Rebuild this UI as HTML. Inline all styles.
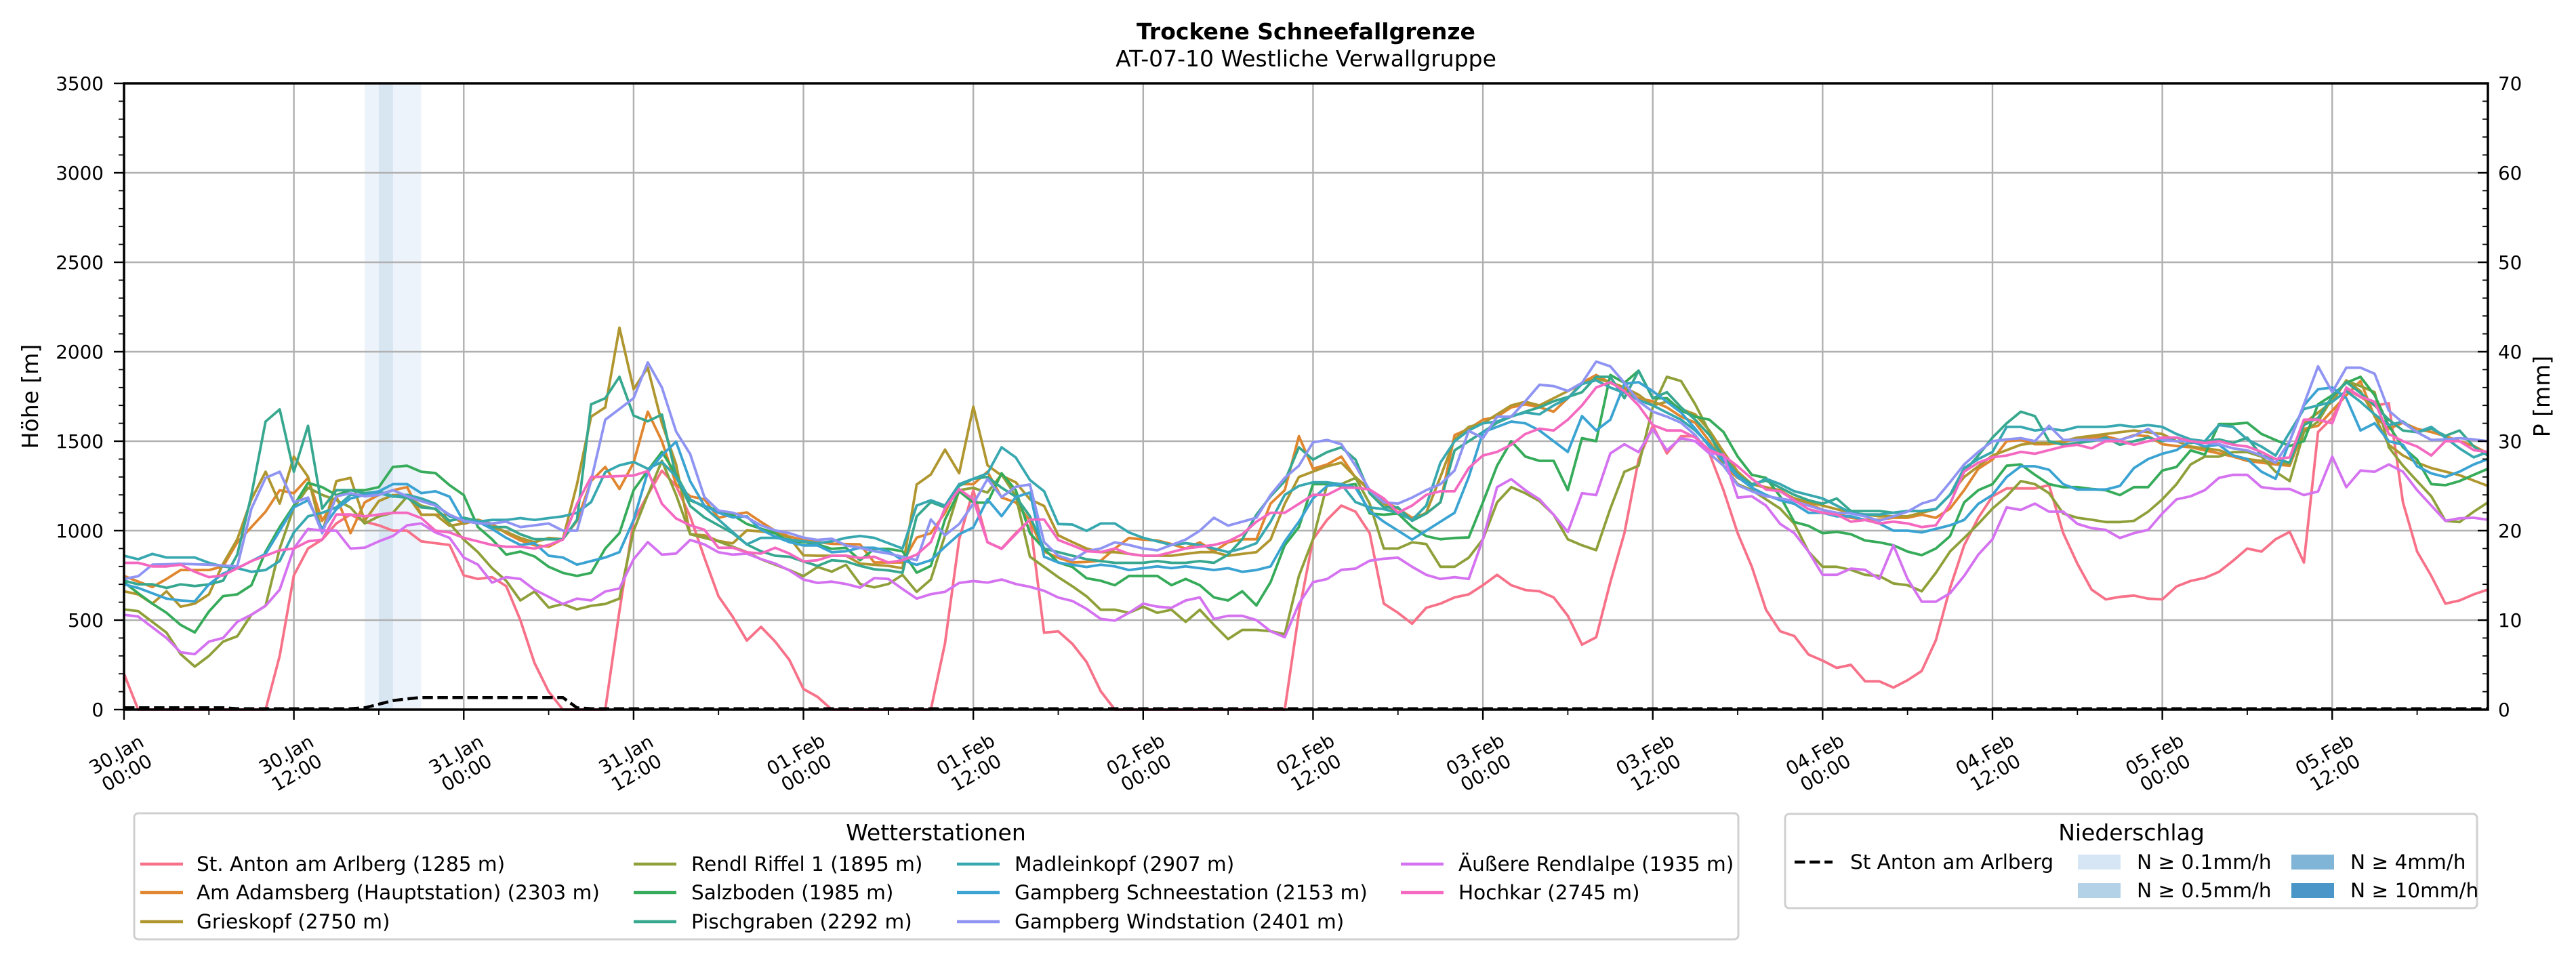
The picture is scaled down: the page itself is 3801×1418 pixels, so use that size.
<!DOCTYPE html>
<html><head><meta charset="utf-8"><style>
html,body{margin:0;padding:0;background:#fff;}
svg{display:block;font-family:"DejaVu Sans","Liberation Sans",sans-serif;}
</style></head><body>
<svg id="chart" width="3801" height="1418" viewBox="0 0 3801 1418" xmlns="http://www.w3.org/2000/svg">
<rect x="0" y="0" width="3801" height="1418" fill="#fff"/>
<g id="bands"></g>
<g id="grid"></g>
<g id="series"></g>
<g id="axes"></g>
<text x="1927" y="58" font-size="33" font-weight="bold" text-anchor="middle">Trockene Schneefallgrenze</text>
<text x="1927" y="98" font-size="33" text-anchor="middle">AT-07-10 Westliche Verwallgruppe</text>
<text transform="translate(56,585) rotate(-90)" font-size="33" text-anchor="middle">Höhe [m]</text>
<text transform="translate(3762,585) rotate(-90)" font-size="33" text-anchor="middle">P [mm]</text>
<g id="legend1">
<rect x="198" y="1200" width="2367" height="186" rx="6" fill="#fff" stroke="#d0d0d0" stroke-width="3"/>
<text x="1381" y="1240" font-size="33" text-anchor="middle">Wetterstationen</text>
</g>
<g id="legend2">
<rect x="2634" y="1201" width="1021" height="139" rx="6" fill="#fff" stroke="#d0d0d0" stroke-width="3"/>
<text x="3145" y="1240" font-size="33" text-anchor="middle">Niederschlag</text>
</g>
</svg>
<script>
// ---- data ----
const stationNames = ["St. Anton am Arlberg (1285 m)","Am Adamsberg (Hauptstation) (2303 m)","Grieskopf (2750 m)","Rendl Riffel 1 (1895 m)","Salzboden (1985 m)","Pischgraben (2292 m)","Madleinkopf (2907 m)","Gampberg Schneestation (2153 m)","Gampberg Windstation (2401 m)","Äußere Rendlalpe (1935 m)","Hochkar (2745 m)"];
const stationColors = ["#f77189","#e0862f","#b0962f","#8fa03a","#36ab5a","#37a88f","#38a8b0","#3aa3d2","#8f94f2","#d472f0","#f468c0"];
const stAnton = [200,0,0,0,0,0,0,0,0,0,0,300,
750,900,950,1040,1090,1050,1030,1000,1000,940,930,920,
750,730,740,690,500,260,100,0,0,0,0,550,
1055,1200,1335,1250,1080,850,633,519,386,462,380,278,
115,71,0,0,0,0,0,0,0,0,370,952,
1226,935,900,986,1061,430,437,367,266,103,0,0,
0,0,0,0,0,0,0,0,0,0,0,541,
952,1061,1140,1106,986,592,541,480,569,592,627,644,
695,753,695,668,661,627,524,363,404,712,986,1397,
1586,1432,1528,1528,1432,1226,986,798,558,438,411,308,
274,233,250,158,158,123,164,216,387,678,918,1072,
1192,1236,1236,1236,1254,986,815,671,616,630,637,620,
616,688,719,736,770,832,900,883,952,993,822,1551,
1630,1791,1747,1699,1712,1158,883,747,592,610,644,671];
const adamsberg = [747,715,685,730,780,780,780,800,935,1020,1106,1226,
1209,1295,1055,1192,986,1158,1200,1226,1243,1089,1089,1089,
1038,1061,1038,986,945,918,911,952,1055,1277,1356,1233,
1380,1665,1500,1260,1192,1175,1072,1090,1102,1049,999,967,
948,936,927,925,923,822,822,822,961,986,1100,1260,
1260,1329,1185,1158,1055,883,849,822,825,832,900,959,
950,945,925,900,935,883,935,952,952,1151,1226,1528,
1346,1370,1414,1295,1226,1165,1123,1072,1096,1158,1534,1569,
1620,1637,1689,1706,1689,1665,1740,1826,1870,1826,1791,1740,
1723,1689,1637,1603,1500,1363,1295,1260,1243,1226,1175,1151,
1116,1096,1072,1061,1061,1072,1072,1089,1072,1123,1226,1346,
1397,1500,1507,1483,1483,1493,1517,1517,1528,1507,1534,1528,
1483,1473,1466,1449,1432,1414,1390,1380,1370,1363,1569,1586,
1671,1757,1836,1637,1569,1603,1569,1551,1528,1500,1473,1432];
const grieskopf = [661,644,592,661,575,592,644,815,952,1175,1329,1151,
1414,1301,986,1277,1295,1055,1165,1199,1199,1089,1089,1027,
1040,1061,1020,993,959,935,959,952,1260,1637,1689,2134,
1791,1911,1600,1371,980,974,942,929,1001,996,986,961,
862,860,860,860,816,809,803,790,1258,1314,1453,1321,
1693,1365,1308,1270,1175,1138,974,936,900,880,880,870,
860,860,860,870,880,880,860,870,880,950,1150,1300,
1330,1360,1380,1300,1230,1150,1100,1060,1100,1300,1510,1580,
1600,1650,1700,1720,1700,1740,1780,1820,1850,1830,1800,1760,
1700,1720,1680,1650,1560,1440,1330,1260,1240,1220,1180,1160,
1140,1120,1100,1090,1080,1080,1080,1100,1120,1200,1300,1360,
1420,1450,1480,1490,1490,1500,1520,1530,1540,1550,1560,1550,
1540,1500,1470,1460,1450,1420,1400,1390,1380,1370,1600,1660,
1720,1840,1780,1640,1480,1420,1380,1350,1330,1310,1280,1250];
const rendl = [560,550,490,430,310,240,300,380,410,530,580,900,
1130,1240,1200,1170,1130,1040,1080,1100,1190,1140,1120,1040,
950,880,790,720,610,660,570,590,560,580,590,620,
1000,1200,1390,1200,980,960,940,910,880,840,810,780,
746,797,771,809,702,683,702,753,658,727,974,1226,
1239,1213,1314,1194,854,797,740,689,633,558,558,541,
575,541,558,490,558,473,394,445,445,438,421,747,
952,1260,1260,1295,1151,900,900,935,925,798,798,849,
952,1158,1243,1209,1165,1089,952,918,891,1123,1329,1363,
1689,1860,1836,1706,1551,1363,1260,1226,1175,1123,1038,883,
798,798,781,753,747,705,695,661,764,883,959,1038,
1123,1192,1277,1260,1209,1096,1072,1061,1048,1048,1055,1106,
1175,1260,1370,1414,1414,1439,1439,1414,1329,1277,1551,1610,
1740,1836,1808,1774,1466,1363,1277,1192,1055,1048,1106,1158];
const salzboden = [712,650,592,541,473,431,548,634,644,695,883,1020,
1140,1267,1243,1199,1226,1226,1243,1356,1363,1329,1322,1254,
1199,1020,952,866,883,856,798,764,747,764,900,986,
1226,1336,1440,1314,1169,1138,1112,1087,1037,1011,986,936,
936,923,898,904,835,898,898,885,765,803,1062,1220,
1157,1157,1321,1226,986,898,822,797,734,720,695,747,
747,747,695,730,695,627,610,661,582,712,918,1020,
1260,1260,1250,1260,1096,1089,1096,1020,969,952,959,962,
1158,1363,1500,1414,1390,1390,1226,1517,1500,1870,1826,1894,
1740,1740,1671,1637,1620,1551,1414,1312,1295,1192,1048,1027,
986,993,980,945,935,918,883,863,900,969,1158,1226,
1260,1363,1370,1312,1260,1243,1243,1233,1226,1199,1243,1243,
1336,1356,1449,1425,1596,1596,1603,1541,1507,1473,1500,1706,
1757,1826,1860,1757,1586,1466,1397,1260,1254,1277,1312,1346];
const pischgraben = [720,700,700,680,700,690,700,720,866,1200,1610,1678,
1329,1586,1123,1226,1226,1209,1219,1192,1185,1130,1123,1055,
1072,1055,1020,1020,980,952,952,952,1061,1706,1740,1860,
1643,1611,1649,1302,1138,1074,1030,986,923,885,860,854,
828,803,835,828,803,784,778,765,1080,1160,1130,1250,
1290,1300,1240,1190,1080,900,880,860,840,830,820,820,
820,830,820,820,830,820,866,952,1089,1192,1277,1466,
1397,1439,1466,1397,1209,1130,1130,1055,1096,1158,1449,1500,
1551,1603,1637,1665,1689,1723,1747,1774,1860,1860,1740,1894,
1740,1774,1689,1620,1534,1414,1312,1260,1280,1240,1200,1170,
1150,1180,1110,1110,1110,1100,1110,1110,1120,1200,1330,1420,
1520,1600,1665,1640,1500,1480,1490,1500,1520,1480,1500,1520,
1500,1520,1490,1500,1510,1490,1520,1420,1400,1380,1590,1630,
1750,1830,1770,1700,1620,1560,1550,1570,1530,1560,1470,1420];
const madleinkopf = [860,840,870,850,850,850,820,800,790,770,780,830,
990,1080,1100,1130,1200,1200,1210,1190,1200,1180,1150,1080,
1060,1050,1060,1060,1070,1060,1070,1080,1100,1160,1327,1365,
1384,1346,1384,1302,1175,1131,1062,992,923,960,960,950,
940,930,940,960,970,960,930,900,1140,1170,1140,1260,
1290,1320,1466,1409,1283,1220,1037,1034,999,1040,1040,990,
960,940,920,930,920,900,880,900,930,1050,1200,1250,
1270,1270,1260,1160,1130,1120,1100,1060,1140,1380,1500,1560,
1600,1610,1640,1660,1650,1700,1740,1820,1840,1800,1770,1730,
1700,1660,1620,1560,1480,1400,1310,1250,1290,1260,1220,1200,
1180,1140,1100,1090,1090,1100,1110,1110,1120,1200,1350,1400,
1440,1580,1580,1560,1570,1560,1580,1580,1580,1590,1580,1590,
1580,1540,1510,1500,1590,1580,1510,1470,1420,1550,1680,1700,
1720,1780,1720,1650,1590,1610,1550,1580,1520,1460,1410,1440];
const gampbergSchnee = [700,680,650,620,610,605,700,760,790,830,870,1000,
1130,1170,1010,1120,1180,1200,1220,1260,1260,1210,1220,1190,
1050,1050,1010,960,920,930,860,850,810,830,850,880,
1060,1327,1422,1497,1276,1140,1100,1074,1080,1005,967,936,
917,917,879,885,904,904,885,835,809,835,910,980,
1018,1175,1081,1188,1213,854,822,809,797,810,800,780,
790,800,790,800,790,780,790,770,780,800,940,1050,
1180,1250,1260,1240,1110,1050,1000,950,1000,1050,1100,1300,
1550,1580,1610,1600,1560,1500,1440,1640,1560,1620,1820,1830,
1780,1720,1660,1570,1470,1390,1300,1240,1200,1170,1150,1100,
1100,1080,1080,1060,1040,1000,1000,990,1010,1030,1060,1150,
1200,1300,1360,1360,1340,1260,1230,1230,1230,1250,1350,1400,
1430,1450,1500,1470,1480,1420,1400,1330,1290,1500,1700,1790,
1800,1740,1560,1600,1500,1480,1360,1320,1300,1330,1370,1400];
const gampbergWind = [730,745,810,812,815,812,810,805,800,1123,1295,1329,
1158,1185,986,1192,1209,1192,1200,1226,1192,1165,1140,1089,
1055,1040,1040,1050,1020,1030,1040,1000,1000,1280,1620,1680,
1740,1940,1800,1554,1428,1188,1112,1100,1074,1030,1001,986,
961,948,955,917,904,885,872,854,835,1062,974,1037,
1150,1289,1188,1245,1258,936,860,835,885,900,935,920,
900,890,920,950,1000,1072,1028,1050,1072,1200,1295,1363,
1493,1507,1483,1363,1226,1158,1151,1185,1226,1260,1336,1558,
1517,1637,1637,1723,1815,1808,1781,1826,1945,1918,1826,1723,
1665,1637,1603,1534,1432,1363,1254,1220,1192,1180,1165,1140,
1116,1100,1096,1080,1055,1080,1106,1151,1175,1270,1370,1440,
1500,1510,1517,1500,1586,1507,1507,1507,1507,1507,1530,1569,
1507,1500,1500,1490,1483,1460,1449,1420,1380,1500,1706,1918,
1774,1911,1911,1877,1671,1603,1550,1507,1510,1517,1510,1500];
const aeussere = [530,520,460,400,320,310,380,400,490,530,580,670,
900,1010,1000,1000,900,905,940,970,1030,1040,990,960,
850,810,710,740,730,670,630,590,620,610,660,677,
840,936,866,872,948,923,879,866,872,841,816,778,
727,708,715,702,682,735,730,674,620,645,658,708,
718,710,727,702,686,664,626,607,563,507,497,541,
592,575,569,610,627,507,524,524,500,438,404,592,
712,730,781,788,832,843,849,798,753,730,740,730,
952,1243,1288,1226,1175,1089,993,1209,1199,1432,1483,1439,
1568,1449,1517,1500,1432,1425,1185,1192,1140,1038,986,883,
753,753,788,781,730,918,730,603,603,650,747,866,
952,1130,1116,1151,1106,1106,1038,1014,1004,959,986,1004,
1096,1175,1192,1226,1295,1312,1312,1243,1233,1233,1199,1219,
1414,1243,1336,1329,1370,1329,1226,1140,1055,1069,1072,1061];
const hochkar = [820,820,800,800,810,770,740,750,790,830,860,890,
900,940,950,1090,1090,1080,1090,1100,1100,1070,1000,990,
960,940,920,910,910,900,920,950,1150,1300,1302,1305,
1308,1333,1150,1068,1030,1005,904,904,879,872,904,872,
828,835,860,860,847,854,822,835,866,936,1125,1232,
1175,936,898,980,1062,1062,948,917,885,880,900,870,
860,860,880,900,910,920,940,980,1050,1100,1100,1150,
1200,1200,1240,1240,1230,1180,1100,1140,1200,1220,1220,1350,
1420,1440,1480,1540,1570,1560,1620,1700,1800,1830,1780,1700,
1590,1560,1560,1520,1450,1420,1360,1290,1230,1220,1170,1120,
1100,1090,1050,1060,1040,1050,1040,1020,1030,1150,1330,1380,
1410,1420,1440,1430,1450,1470,1480,1460,1500,1500,1480,1500,
1520,1520,1500,1490,1500,1480,1470,1440,1400,1410,1620,1620,
1600,1800,1750,1720,1540,1500,1470,1420,1500,1500,1450,1440];
const precipStAnton = [0.2,0.2,0.2,0.2,0.2,0.2,0.2,0.2,0.1,0.1,0.1,0.1,
0.1,0.1,0.1,0.1,0.1,0.2,0.6,1.0,1.2,1.35,1.35,1.35,
1.35,1.35,1.35,1.35,1.35,1.35,1.35,1.35,0.2,0.1,0.1,0.1];
const precipBandsLight = [[17,21]];
const precipBandsDark = [[18,19]];
const yTicks = [0,500,1000,1500,2000,2500,3000,3500];
const y2Ticks = [0,10,20,30,40,50,60,70];
const xTickHours = [0,12,24,36,48,60,72,84,96,108,120,132,144,156];
const xTickLabels = [["30.Jan","00:00"],["30.Jan","12:00"],["31.Jan","00:00"],["31.Jan","12:00"],["01.Feb","00:00"],["01.Feb","12:00"],["02.Feb","00:00"],["02.Feb","12:00"],["03.Feb","00:00"],["03.Feb","12:00"],["04.Feb","00:00"],["04.Feb","12:00"],["05.Feb","00:00"],["05.Feb","12:00"]];
const allSeries = [stAnton,adamsberg,grieskopf,rendl,salzboden,pischgraben,madleinkopf,gampbergSchnee,gampbergWind,aeussere,hochkar];

// ---- scales ----
const L=183,R=3671,T=123,B=1047,HMAX=167;
const xs=h=>L+h*(R-L)/HMAX;
const ys=v=>B-v*(B-T)/3500;
const ys2=p=>B-p*(B-T)/70;
const NS="http://www.w3.org/2000/svg";
function mk(tag,attrs,parent){const e=document.createElementNS(NS,tag);for(const k in attrs)e.setAttribute(k,attrs[k]);parent.appendChild(e);return e;}
const bands=document.getElementById('bands'),grid=document.getElementById('grid'),ser=document.getElementById('series'),axes=document.getElementById('axes');

precipBandsLight.forEach(b=>{const r=mk('rect',{x:xs(b[0]),y:T,width:xs(b[1])-xs(b[0]),height:B-T,fill:'#edf3fa'},bands);

});
precipBandsDark.forEach(b=>{const r=mk('rect',{x:xs(b[0]),y:T,width:xs(b[1])-xs(b[0]),height:B-T,fill:'#d8e6f2'},bands);

});

yTicks.forEach(v=>{const y=ys(v);
 if(v>0&&v<3500){const g=mk('line',{x1:L,x2:R,y1:y,y2:y,stroke:'#b0b0b0','stroke-width':2.4},grid);
 
 }
 mk('line',{x1:L-15,x2:L,y1:y,y2:y,stroke:'#000','stroke-width':2.4},axes);
 const t=mk('text',{x:L-30,y:y+10,'font-size':27.8,'text-anchor':'end'},axes);t.textContent=v;
 
 
});
for(let v=100;v<3500;v+=100){if(v%500)mk('line',{x1:L-8,x2:L,y1:ys(v),y2:ys(v),stroke:'#000','stroke-width':1.8},axes);}
y2Ticks.forEach(p=>{const y=ys2(p);
 mk('line',{x1:R-15,x2:R,y1:y,y2:y,stroke:'#000','stroke-width':2.4},axes);
 const t=mk('text',{x:R+15,y:y+10,'font-size':27.8},axes);t.textContent=p;
 
 
});
for(let p=2;p<70;p+=2){if(p%10)mk('line',{x1:R-8,x2:R,y1:ys2(p),y2:ys2(p),stroke:'#000','stroke-width':1.8},axes);}
xTickHours.forEach((h,i)=>{const x=xs(h);
 if(h>0){const g=mk('line',{x1:x,x2:x,y1:T,y2:B,stroke:'#b0b0b0','stroke-width':2.4},grid);
 
 }
 mk('line',{x1:x,x2:x,y1:B,y2:B+15,stroke:'#000','stroke-width':2.4},axes);
 const t=mk('text',{transform:`translate(${x-4},1126) rotate(-30)`,'font-size':27.8,'text-anchor':'middle'},axes);
 
 
 const a=mk('tspan',{x:0,y:-5},t);a.textContent=xTickLabels[i][0];
 const b=mk('tspan',{x:0,y:26},t);b.textContent=xTickLabels[i][1];
});
for(let h=6;h<HMAX;h+=12)mk('line',{x1:xs(h),x2:xs(h),y1:B,y2:B+8,stroke:'#000','stroke-width':1.8},axes);

allSeries.forEach((arr,si)=>{
 const pts=arr.slice(0,HMAX+1).map((v,i)=>xs(i).toFixed(1)+','+ys(v).toFixed(1)).join(' ');
 const p=mk('polyline',{points:pts,fill:'none',stroke:stationColors[si],'stroke-width':3.8,'stroke-linejoin':'round'},ser);
 
 
});
const pr=[];for(let h=0;h<=HMAX;h++)pr.push(h<precipStAnton.length?precipStAnton[h]:0.1);
const pl=mk('polyline',{points:pr.map((p,i)=>xs(i).toFixed(1)+','+ys2(p).toFixed(1)).join(' '),fill:'none',stroke:'#000','stroke-width':4.5,'stroke-dasharray':'15.4 6.7'},ser);


const fr=mk('rect',{x:L,y:T,width:R-L,height:B-T,fill:'none',stroke:'#000','stroke-width':3.5},axes);



// legends
const lg1=document.getElementById('legend1');
const colX=[[207,290],[935,1020],[1412,1497],[2067,2152]];
const rowY=[1275,1317,1360];
stationNames.forEach((n,i)=>{const c=Math.floor(i/3),r=i%3;
 const h=mk('line',{x1:colX[c][0],x2:colX[c][0]+63,y1:rowY[r],y2:rowY[r],stroke:stationColors[i],'stroke-width':4.5},lg1);
 
 
 const t=mk('text',{x:colX[c][1],y:rowY[r]+10,'font-size':29.5},lg1);t.textContent=n;
 
 
});
const lg2=document.getElementById('legend2');
const dl=mk('line',{x1:2648,x2:2704,y1:1272,y2:1272,stroke:'#000','stroke-width':4.5,'stroke-dasharray':'15.4 6.7'},lg2);


const dt=mk('text',{x:2730,y:1282,'font-size':29.5},lg2);dt.textContent='St Anton am Arlberg';


const patches=[[3066,1272,'#d6e6f4','N ≥ 0.1mm/h'],[3066,1314,'#b3d2e8','N ≥ 0.5mm/h'],[3381,1272,'#80b5d8','N ≥ 4mm/h'],[3381,1314,'#4a96c8','N ≥ 10mm/h']];
patches.forEach(p=>{const r=mk('rect',{x:p[0],y:p[1]-11,width:63,height:22,fill:p[2]},lg2);
 
 
 const t=mk('text',{x:p[0]+87,y:p[1]+10,'font-size':29.5},lg2);t.textContent=p[3];
 
 });
</script>
</body></html>
